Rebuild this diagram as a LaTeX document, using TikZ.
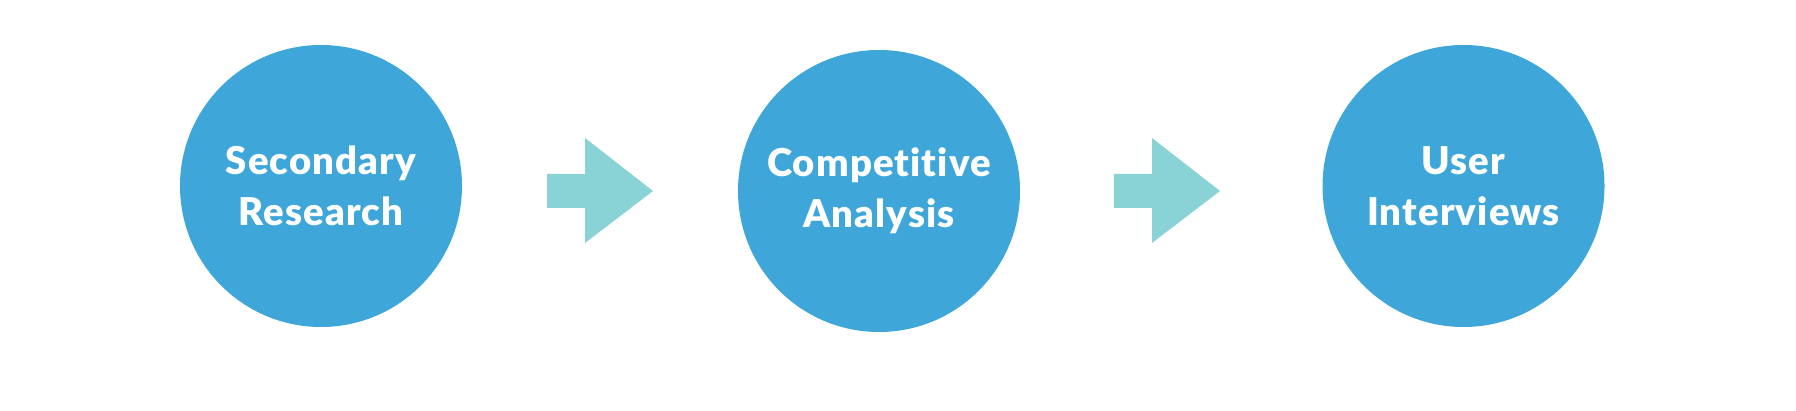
\documentclass[tikz,border=0pt]{standalone}
\usepackage{fontspec}
\setmainfont{Lato}[LetterSpace=3, Ligatures=NoCommon, BoldFont=* Black]
\definecolor{stepblue}{HTML}{3EA6D8}
\definecolor{arrowteal}{HTML}{89D3D7}
\begin{document}
\begin{tikzpicture}[x=1cm,y=1cm]
        \useasboundingbox (0,0) rectangle (17.96,4.10);
        \begin{scope}[every node/.style={circle,fill=stepblue,text=white,
                        inner sep=0pt, minimum size=2.82cm, align=center,
                        font=\fontsize{10.9}{14.5}\selectfont\bfseries}]
            \node (sec) at (3.21,2.24) {Secondary\\Research};
            \node (comp) at (8.79,2.19) {Competitive\\Analysis};
            \node (user) at (14.635,2.24) {User\\Interviews};
        \end{scope}

        \fill[arrowteal] (5.47,2.36) -- (5.85,2.36) -- (5.85,2.72) -- (6.53,2.19)
            -- (5.85,1.67) -- (5.85,2.02) -- (5.47,2.02) -- cycle;
        \fill[arrowteal] (11.14,2.36) -- (11.52,2.36) -- (11.52,2.72) -- (12.20,2.19)
            -- (11.52,1.67) -- (11.52,2.02) -- (11.14,2.02) -- cycle;
    \end{tikzpicture}
\end{document}
